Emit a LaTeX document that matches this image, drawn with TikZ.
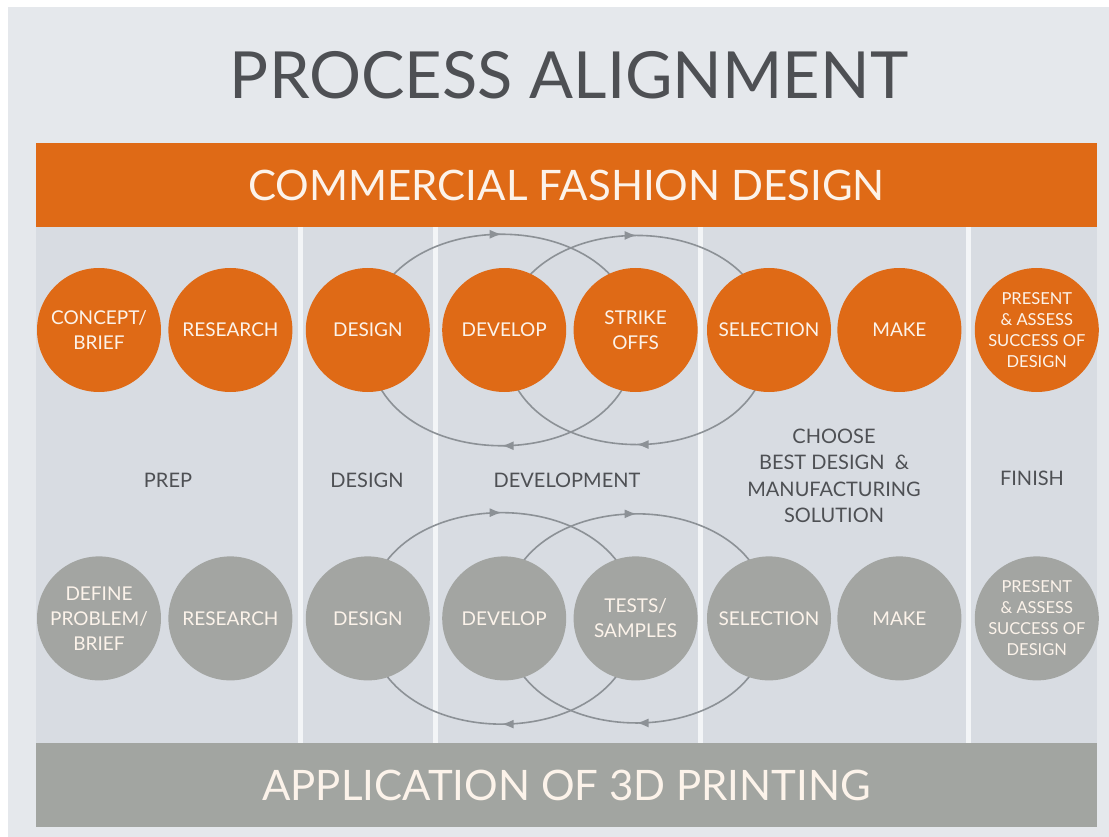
\documentclass[tikz,border=0pt]{standalone}
\usepackage{fontspec}
\setmainfont{Lato}
\usepackage{xcolor}
\usepackage{tikz}
\usetikzlibrary{positioning}
\usetikzlibrary{shapes,arrows.meta,decorations.markings}
\definecolor{orng}{RGB}{223,106,22}
\definecolor{grcirc}{RGB}{163,165,162}
\definecolor{grbar}{RGB}{162,165,161}
\definecolor{panel}{RGB}{216,220,226}
\definecolor{pagebg}{RGB}{229,232,236}
\definecolor{sepc}{RGB}{243,245,247}
\definecolor{arcc}{RGB}{140,145,150}
\definecolor{ink}{RGB}{78,80,84}
\definecolor{cream}{RGB}{252,243,234}
\pgfdeclarelayer{back}
\pgfdeclarelayer{arcs}
\pgfsetlayers{back,arcs,main}
\tikzstyle{stage} = [circle, minimum size=124pt, inner sep=0pt, text=cream, align=center, font=\fontsize{19}{25}\selectfont]
\tikzstyle{ostage} = [stage, fill=orng]
\tikzstyle{gstage} = [stage, fill=grcirc]
\tikzstyle{smalltxt} = [font=\fontsize{16.5}{21}\selectfont]
\tikzstyle{phase} = [text=ink, align=center, font=\fontsize{20}{26.5}\selectfont]
\tikzstyle{bar} = [minimum width=1061pt, minimum height=84pt, inner sep=0pt, text=cream, font=\fontsize{42}{50}\selectfont]
\tikzstyle{cycarc} = [draw=arcc, line width=1.6pt, postaction={decorate},
  decoration={markings, mark=at position 0.5 with {\arrow{Latex[length=12pt,width=9pt,color=arcc]}}}]

\begin{document}
\begin{tikzpicture}[x=1pt, y=1pt]
\useasboundingbox (0,0) rectangle (1109,-837);
    % title and bars
\node [text=ink, font=\fontsize{65}{70}\selectfont] (ttl) at (569,-75) {PROCESS ALIGNMENT};
\node [bar, fill=orng] (cfd) at (566.5,-185) {COMMERCIAL FASHION DESIGN};
\node [bar, fill=grbar] (a3d) at (566.5,-785) {APPLICATION OF 3D PRINTING};

    % fashion design row
\node [ostage] (cb) at (99,-330) {CONCEPT/\\BRIEF};
\node [ostage, right=7pt of cb] (rs) {RESEARCH};
\node [ostage, right=13pt of rs] (ds) {DESIGN};
\node [ostage, right=12pt of ds] (dv) {DEVELOP};
\node [ostage, right=7pt of dv] (so) {STRIKE\\OFFS};
\node [ostage, right=9pt of so] (sel) {SELECTION};
\node [ostage, right=6pt of sel] (mk) {MAKE};
\node [ostage, smalltxt, right=13pt of mk] (pad) {PRESENT\\\& ASSESS\\SUCCESS OF\\DESIGN};

    % 3d printing row
\node [gstage, below=164pt of cb] (dpb) {DEFINE\\PROBLEM/\\BRIEF};
\node [gstage, below=164pt of rs] (rs3) {RESEARCH};
\node [gstage, below=164pt of ds] (ds3) {DESIGN};
\node [gstage, below=164pt of dv] (dv3) {DEVELOP};
\node [gstage, below=164pt of so] (ts) {TESTS/\\SAMPLES};
\node [gstage, below=164pt of sel] (sel3) {SELECTION};
\node [gstage, below=164pt of mk] (mk3) {MAKE};
\node [gstage, smalltxt, below=164pt of pad] (pad3) {PRESENT\\\& ASSESS\\SUCCESS OF\\DESIGN};

    % phases
\node [phase] (prep) at (168,-480) {PREP};
\node [phase] (dsgn) at (367,-480) {DESIGN};
\node [phase] (devt) at (567,-480) {DEVELOPMENT};
\node [phase] (chs) at (834,-476) {CHOOSE\\BEST DESIGN \ \&\\MANUFACTURING\\SOLUTION};
\node [phase] (fin) at (1032,-478) {FINISH};

%edges
\begin{pgfonlayer}{arcs}
\path [cycarc] ([yshift=-10pt]ds.center) to[out=90, in=90, looseness=1.35] ([yshift=-10pt]so.center);
\path [cycarc] ([yshift=-10pt]so.center) to[out=-90, in=-90, looseness=1.35] ([yshift=-10pt]ds.center);
\path [cycarc] ([yshift=-10pt]dv.center) to[out=90, in=90, looseness=1.35] ([yshift=-10pt]sel.center);
\path [cycarc] ([yshift=-10pt]sel.center) to[out=-90, in=-90, looseness=1.35] ([yshift=-10pt]dv.center);
\path [cycarc] (ds3.center) to[out=90, in=90, looseness=1.35] (ts.center);
\path [cycarc] (ts.center) to[out=-90, in=-90, looseness=1.35] (ds3.center);
\path [cycarc] (dv3.center) to[out=90, in=90, looseness=1.35] (sel3.center);
\path [cycarc] (sel3.center) to[out=-90, in=-90, looseness=1.35] (dv3.center);
\end{pgfonlayer}

    % columns
\begin{pgfonlayer}{back}
\fill [white] (0,0) rectangle (1109,-837);
\fill [pagebg] (8,-7) rectangle (1109,-837);
\fill [panel] (36,-227) rectangle (1097,-743);
\foreach \x in {300,435,700,968}
  \fill [sepc] (\x-2.5,-227) rectangle (\x+2.5,-743);
\end{pgfonlayer}
\end{tikzpicture}
\end{document}
